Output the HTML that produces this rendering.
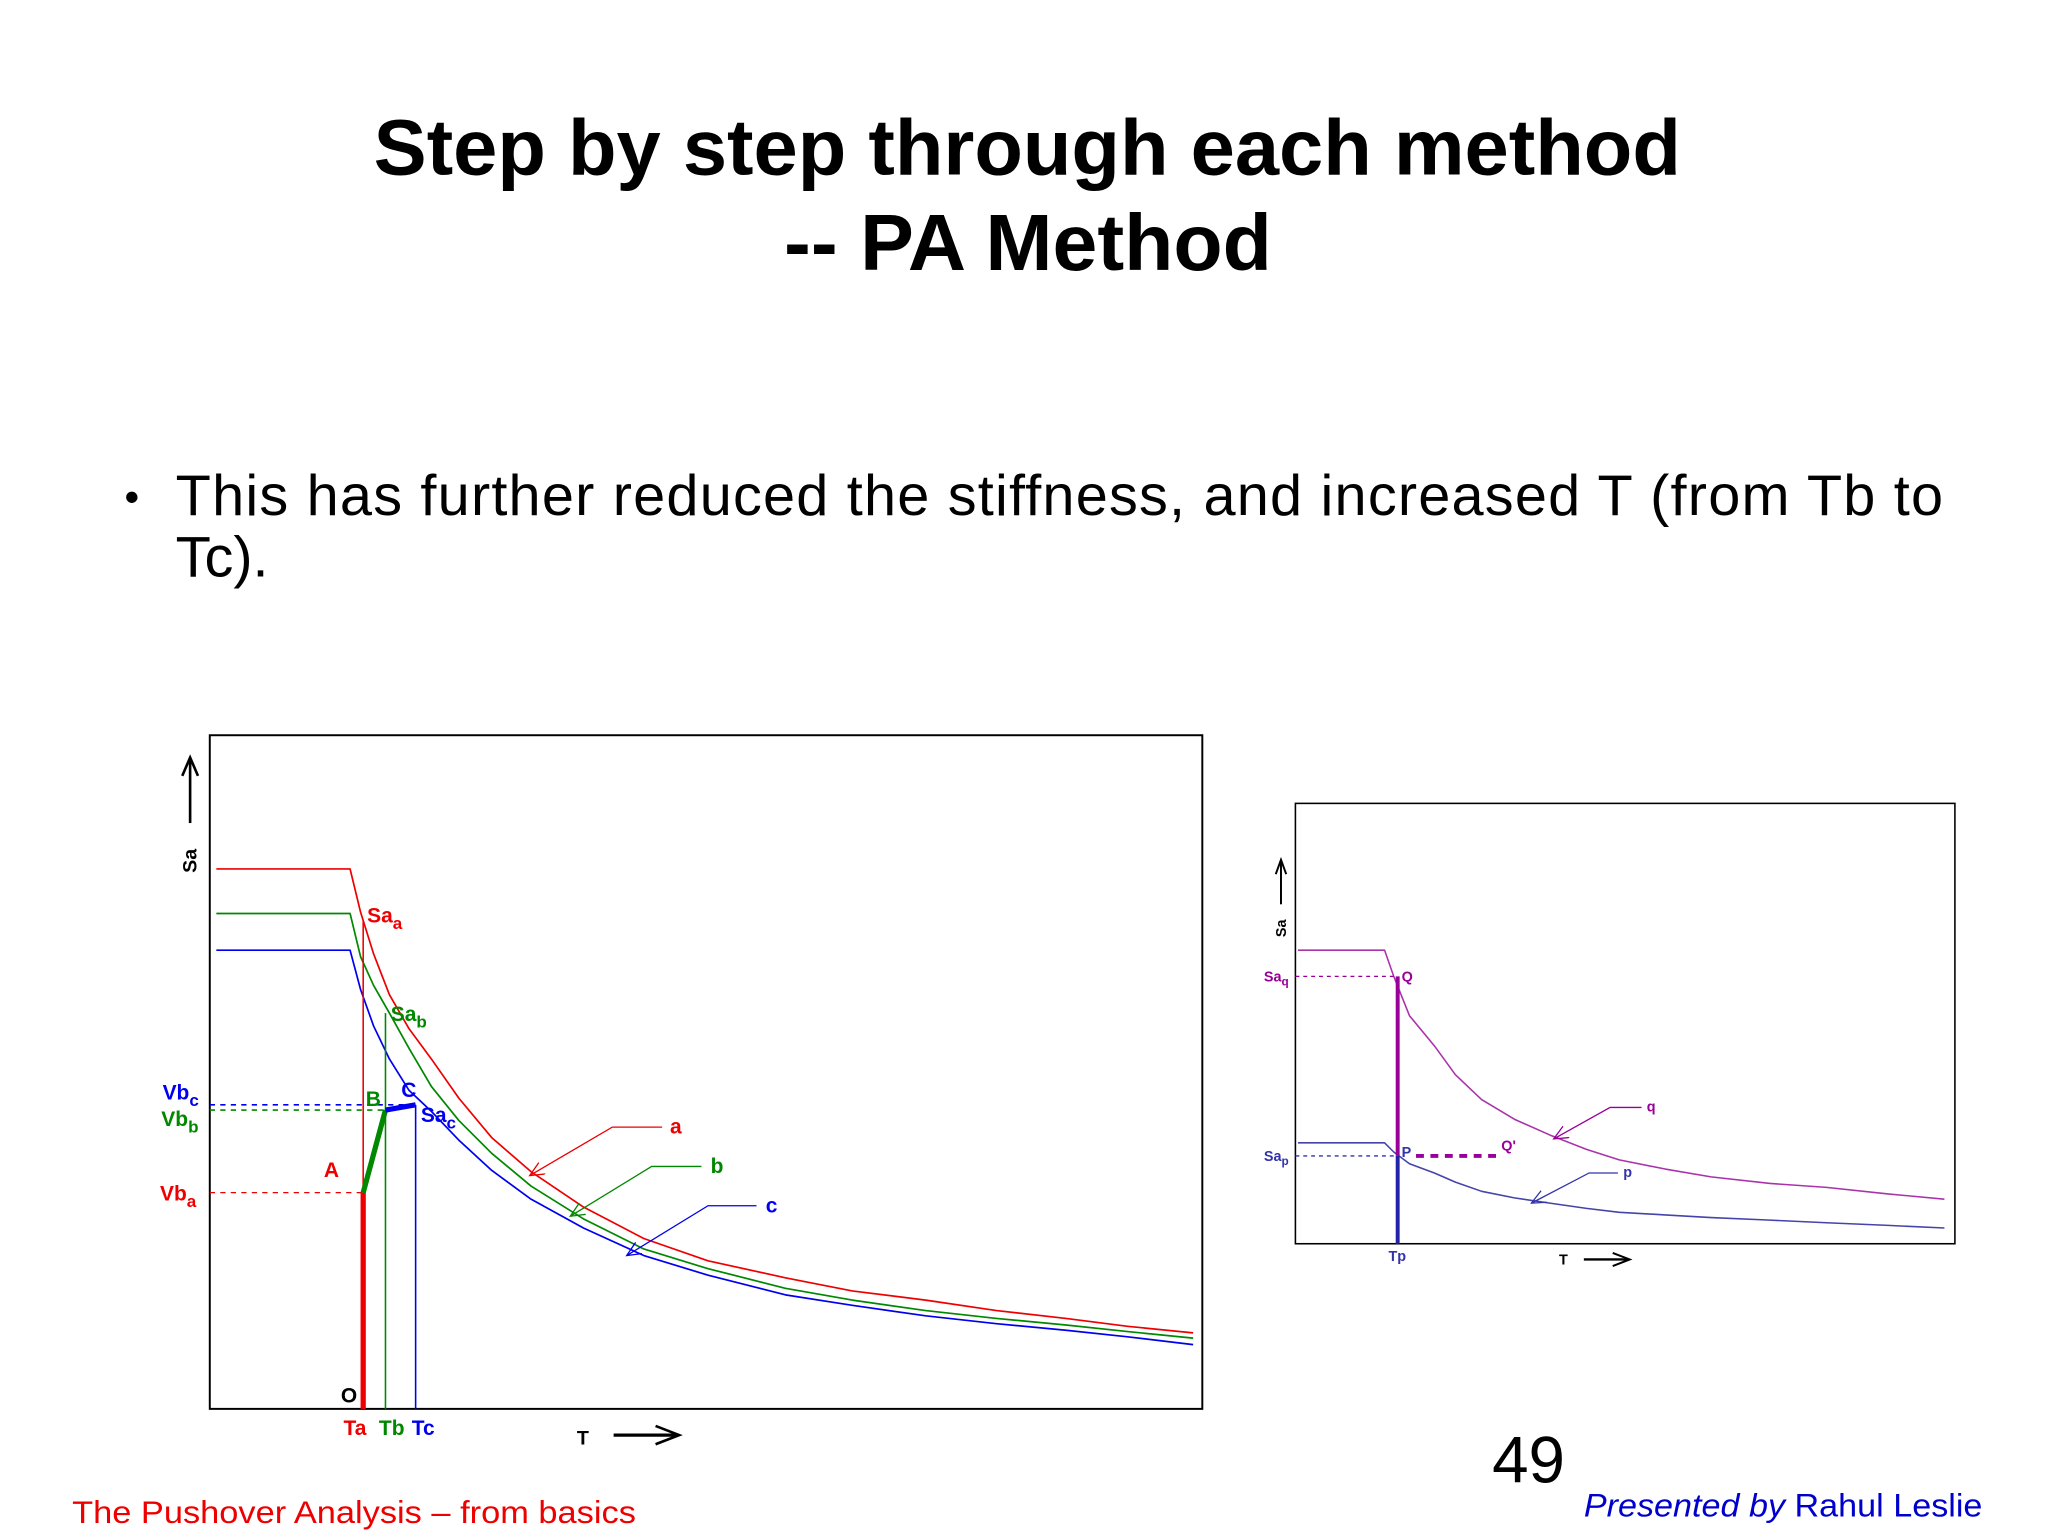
<!DOCTYPE html>
<html><head><meta charset="utf-8"><style>
html,body{margin:0;padding:0;background:#fff;}
svg{display:block;}
text{font-family:"Liberation Sans",sans-serif;}
</style></head><body>
<svg id="slide" width="2048" height="1536" viewBox="0 0 1562 1172" preserveAspectRatio="none" xmlns="http://www.w3.org/2000/svg">
<defs>
<marker id="arr" markerWidth="12" markerHeight="12" refX="11" refY="5" orient="auto" markerUnits="userSpaceOnUse"><path d="M0,0 L11,5 L0,10" fill="none" stroke="context-stroke" stroke-width="1"/></marker>
</defs>
<text x="285" y="133" font-size="60" font-weight="bold" textLength="997" lengthAdjust="spacingAndGlyphs">Step by step through each method</text>
<text x="598" y="206" font-size="61" font-weight="bold" textLength="372" lengthAdjust="spacingAndGlyphs">-- PA Method</text>
<text x="95" y="390" font-size="32">•</text>
<text x="134" y="393" font-size="44" textLength="1348" lengthAdjust="spacing">This has further reduced the stiffness, and increased T (from Tb to</text>
<text x="134" y="440" font-size="44">Tc).</text>

<g id="left-chart">
<rect x="160" y="561" width="757" height="514" fill="none" stroke="#000" stroke-width="1.5"/>
<line x1="145" y1="628" x2="145" y2="580" stroke="#000" stroke-width="2"/>
<path d="M139,592 L145,578 L151,592" fill="none" stroke="#000" stroke-width="2"/>
<text transform="translate(150,666) rotate(-90)" font-size="15" font-weight="bold">Sa</text>
<text x="440" y="1102" font-size="15" font-weight="bold">T</text>
<line x1="468" y1="1095" x2="516" y2="1095" stroke="#000" stroke-width="2.5"/>
<path d="M500,1088 L518,1095 L500,1102" fill="none" stroke="#000" stroke-width="2"/>
<g id="left-series"></g>
<line x1="160" y1="910" x2="277" y2="910" stroke="#e00" stroke-width="1" stroke-dasharray="4,4"/>
<line x1="160" y1="847" x2="294" y2="847" stroke="#080" stroke-width="1.2" stroke-dasharray="4,4"/>
<line x1="160" y1="843" x2="317" y2="843" stroke="#00e" stroke-width="1.2" stroke-dasharray="4,4"/>
<g font-weight="bold" font-size="16">
<text x="124" y="839" fill="#00e">Vb<tspan font-size="13" dy="5">c</tspan></text>
<text x="123" y="859" fill="#080">Vb<tspan font-size="13" dy="5">b</tspan></text>
<text x="122" y="916" fill="#e00">Vb<tspan font-size="13" dy="5">a</tspan></text>
<text x="280" y="704" fill="#e00">Sa<tspan font-size="13" dy="5">a</tspan></text>
<text x="298" y="779" fill="#080">Sa<tspan font-size="13" dy="5">b</tspan></text>
<text x="321" y="856" fill="#00e">Sa<tspan font-size="13" dy="5">c</tspan></text>
<text x="247" y="898" fill="#e00">A</text>
<text x="279" y="844" fill="#080">B</text>
<text x="306" y="837" fill="#00e">C</text>
<text x="260" y="1070" fill="#000">O</text>
<text x="262" y="1095" fill="#e00">Ta</text>
<text x="289" y="1095" fill="#080">Tb</text>
<text x="314" y="1095" fill="#00e">Tc</text>
<text x="511" y="865" fill="#e00">a</text>
<text x="542" y="895" fill="#080">b</text>
<text x="584" y="925" fill="#00e">c</text>
</g>
<polyline points="505,860 467,860 404,897" fill="none" stroke="#e00" stroke-width="1" marker-end="url(#arr)"/>
<polyline points="535,890 497,890 435,928" fill="none" stroke="#080" stroke-width="1" marker-end="url(#arr)"/>
<polyline points="577,920 540,920 478,958" fill="none" stroke="#00e" stroke-width="1" marker-end="url(#arr)"/>
</g>

<g id="right-chart">
<rect x="988" y="613" width="503" height="336" fill="none" stroke="#000" stroke-width="1.2"/>
<line x1="977" y1="690" x2="977" y2="658" stroke="#000" stroke-width="1.5"/>
<path d="M973,667 L977,656 L981,667" fill="none" stroke="#000" stroke-width="1.5"/>
<text transform="translate(981,715) rotate(-90)" font-size="11" font-weight="bold">Sa</text>
<text x="1189" y="965" font-size="11" font-weight="bold">T</text>
<line x1="1208" y1="961" x2="1241" y2="961" stroke="#000" stroke-width="1.8"/>
<path d="M1230,956 L1243,961 L1230,966" fill="none" stroke="#000" stroke-width="1.5"/>
<g id="right-series"></g>
<line x1="988" y1="745" x2="1066" y2="745" stroke="#909" stroke-width="1" stroke-dasharray="3,3"/>
<line x1="988" y1="882" x2="1066" y2="882" stroke="#33a" stroke-width="1" stroke-dasharray="3,3"/>
<line x1="1066" y1="745" x2="1066" y2="882" stroke="#909" stroke-width="3"/>
<line x1="1066" y1="882" x2="1066" y2="949" stroke="#22a" stroke-width="3"/>
<line x1="1080" y1="882" x2="1146" y2="882" stroke="#909" stroke-width="3" stroke-dasharray="6,5"/>
<polyline points="1252,845 1228,845 1185,869" fill="none" stroke="#909" stroke-width="1" marker-end="url(#arr)"/>
<polyline points="1234,895 1212,895 1168,918" fill="none" stroke="#33a" stroke-width="1" marker-end="url(#arr)"/>
<g font-weight="bold" font-size="11">
<text x="964" y="749" fill="#909" font-family="Liberation Serif">Sa<tspan font-size="9" dy="3">q</tspan></text>
<text x="964" y="886" fill="#33a" font-family="Liberation Serif">Sa<tspan font-size="9" dy="3">p</tspan></text>
<text x="1069" y="749" fill="#909" font-family="Liberation Serif">Q</text>
<text x="1069" y="883" fill="#33a" font-family="Liberation Serif">P</text>
<text x="1145" y="878" fill="#909" font-family="Liberation Serif">Q'</text>
<text x="1256" y="848" fill="#909" font-family="Liberation Serif">q</text>
<text x="1238" y="898" fill="#33a" font-family="Liberation Serif">p</text>
<text x="1059" y="962" fill="#33a" font-family="Liberation Serif">Tp</text>
</g>
</g>

<text x="55" y="1162" font-size="24" fill="#e00" textLength="430" lengthAdjust="spacingAndGlyphs">The Pushover Analysis – from basics</text>
<text x="1138" y="1131" font-size="50" fill="#000">49</text>
<text x="1208" y="1157" font-size="25" fill="#00c" textLength="304" lengthAdjust="spacingAndGlyphs"><tspan font-style="italic">Presented by</tspan> Rahul Leslie</text>
</svg>
<script>
// Left chart data (T in s, Sa in g)
const leftT = [0.025, 0.535, 0.575, 0.625, 0.685, 0.76, 0.845, 0.95, 1.075, 1.225, 1.425, 1.655, 1.9, 2.195, 2.45, 2.73, 3.0, 3.265, 3.5, 3.75];
const saA = [2.06, 2.06, 1.895, 1.735, 1.58, 1.45, 1.335, 1.185, 1.035, 0.905, 0.77, 0.65, 0.565, 0.5, 0.45, 0.415, 0.375, 0.345, 0.315, 0.29];
const saB = [1.89, 1.89, 1.725, 1.615, 1.51, 1.375, 1.23, 1.1, 0.975, 0.85, 0.725, 0.61, 0.535, 0.46, 0.415, 0.375, 0.345, 0.32, 0.295, 0.27];
const saC = [1.75, 1.75, 1.6, 1.46, 1.335, 1.215, 1.135, 1.025, 0.91, 0.8, 0.69, 0.585, 0.51, 0.435, 0.395, 0.355, 0.325, 0.3, 0.275, 0.245];
const periodsABC = [0.585, 0.67, 0.785];
const topsABC = [1.86, 1.51, 1.16];
const baseShear = [0.825, 1.14, 1.16];
// Right chart data
const rightT = [0.02, 0.68, 0.75, 0.87, 1.06, 1.22, 1.42, 1.67, 1.94, 2.22, 2.47, 2.82, 3.17, 3.62, 4.05, 4.52, 4.95];
const saQ = [2.24, 2.24, 2.04, 1.74, 1.51, 1.29, 1.10, 0.95, 0.83, 0.72, 0.64, 0.57, 0.51, 0.46, 0.43, 0.38, 0.34];
const saP = [0.77, 0.77, 0.70, 0.61, 0.54, 0.47, 0.40, 0.35, 0.31, 0.27, 0.24, 0.22, 0.20, 0.18, 0.16, 0.14, 0.12];

const NS = 'http://www.w3.org/2000/svg';
const lx = t => 160 + t * 200, ly = s => 1075 - s * 200;
const rx = t => 988 + t * 100, ry = s => 949 - s * 100;
function poly(g, T, S, fx, fy, color, w) {
  const p = document.createElementNS(NS, 'polyline');
  p.setAttribute('points', T.map((t, i) => fx(t).toFixed(1) + ',' + fy(S[i]).toFixed(1)).join(' '));
  p.setAttribute('fill', 'none'); p.setAttribute('stroke', color); p.setAttribute('stroke-width', w);
  p.setAttribute('stroke-linejoin', 'round');
  g.appendChild(p); return p;
}
function line(g, x1, y1, x2, y2, color, w) {
  const l = document.createElementNS(NS, 'line');
  l.setAttribute('x1', x1); l.setAttribute('y1', y1); l.setAttribute('x2', x2); l.setAttribute('y2', y2);
  l.setAttribute('stroke', color); l.setAttribute('stroke-width', w);
  g.appendChild(l); return l;
}
const lg = document.getElementById('left-series');
let el;
el = poly(lg, leftT, saA, lx, ly, '#e00', 1.3);


el = poly(lg, leftT, saB, lx, ly, '#080', 1.3);


el = poly(lg, leftT, saC, lx, ly, '#00e', 1.3);


const cols = ['#e00', '#080', '#00e'];
for (let i = 0; i < 3; i++) {
  el = line(lg, lx(periodsABC[i]), ly(0), lx(periodsABC[i]), ly(topsABC[i]), cols[i], 1.2);
  
  
}
el = line(lg, lx(periodsABC[0]), ly(0), lx(periodsABC[0]), ly(baseShear[0]), '#e00', 4);


el = line(lg, lx(periodsABC[0]), ly(baseShear[0]), lx(periodsABC[1]), ly(baseShear[1]), '#080', 4);


el = line(lg, lx(periodsABC[1]), ly(baseShear[1]), lx(periodsABC[2]), ly(baseShear[2]), '#00e', 4);


const rg = document.getElementById('right-series');
el = poly(rg, rightT, saQ, rx, ry, '#a3a', 1.2);


el = poly(rg, rightT, saP, rx, ry, '#44a', 1.2);


</script>
</body></html>
